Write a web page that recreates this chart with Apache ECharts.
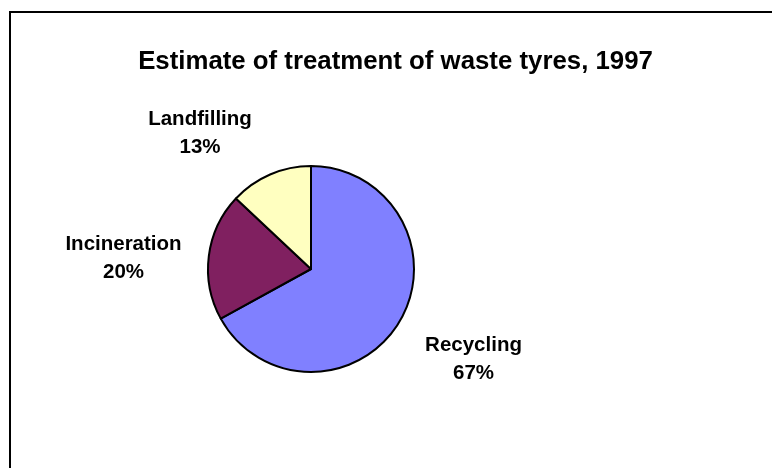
<!DOCTYPE html>
<html>
<head>
<meta charset="utf-8">
<script src="https://cdn.jsdelivr.net/npm/echarts@6/dist/echarts.min.js"></script>
<style>
  html, body { margin: 0; padding: 0; background: #fff; }
  #chart { width: 772px; height: 468px; }
</style>
</head>
<body>
<div id="chart"></div>
<script>
// Treatment routes for waste tyres, share in percent
const categories = ['Recycling', 'Incineration', 'Landfilling'];
const shares = [67, 20, 13];
const sliceColors = ['#8080FF', '#802060', '#FFFFC0'];
const chartTitle = 'Estimate of treatment of waste tyres, 1997';

// Where each label block is centred on the canvas
const labelCentres = [[473.5, 359], [123.5, 258], [200, 133]];

const font = '"Liberation Sans", Arial, Helvetica, sans-serif';

const chart = echarts.init(document.getElementById('chart'), null, { renderer: 'canvas' });

chart.setOption({
  backgroundColor: '#ffffff',
  animation: false,
  title: {
    text: chartTitle,
    left: 395.5,
    top: 49,
    textAlign: 'center',
    padding: 0,
    textStyle: {
      fontFamily: font,
      fontWeight: 'bold',
      fontSize: 25.8,
      color: '#000'
    }
  },
  graphic: [{
    type: 'rect',
    silent: true,
    shape: { x: 10, y: 12, width: 820, height: 520 },
    style: { fill: 'none', stroke: '#000', lineWidth: 2 }
  }],
  series: [{
    type: 'pie',
    center: [311, 269],
    radius: 103,
    startAngle: 90,
    clockwise: true,
    avoidLabelOverlap: false,
    itemStyle: { borderColor: '#000', borderWidth: 2 },
    emphasis: { disabled: true },
    label: {
      show: true,
      position: 'outside',
      formatter: p => p.name + '\n' + p.value + '%',
      fontFamily: font,
      fontWeight: 'bold',
      fontSize: 20.5,
      lineHeight: 28,
      color: '#000',
      align: 'center'
    },
    labelLine: { show: false },
    labelLayout: params => {
      const c = labelCentres[params.dataIndex];
      return { x: c[0], y: c[1], align: 'center', verticalAlign: 'middle' };
    },
    data: categories.map((name, i) => ({
      name: name,
      value: shares[i],
      itemStyle: { color: sliceColors[i] }
    }))
  }]
});
</script>
</body>
</html>
